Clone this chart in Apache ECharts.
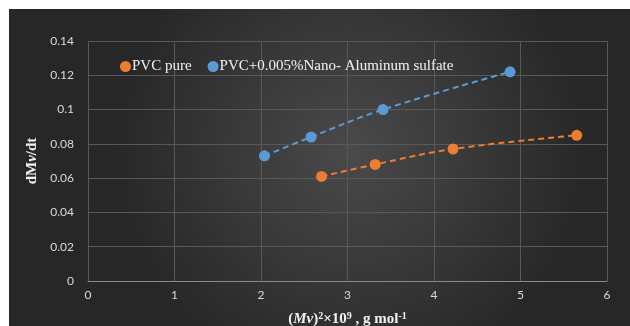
<!DOCTYPE html>
<html>
<head>
<meta charset="utf-8">
<script src="https://cdn.jsdelivr.net/npm/echarts@6/dist/echarts.min.js"></script>
<style>html,body{margin:0;padding:0;background:#fff}#c{width:630px;height:326px}</style>
</head>
<body>
<div id="c"></div>
<script>
var seriesNames = ['PVC pure', 'PVC+0.005%Nano- Aluminum sulfate'];
var pureX = [2.70, 3.32, 4.22, 5.65];
var pureY = [0.061, 0.068, 0.077, 0.085];
var nanoX = [2.04, 2.58, 3.41, 4.88];
var nanoY = [0.073, 0.084, 0.100, 0.122];
var xTicks = [0, 1, 2, 3, 4, 5, 6];
var yTicks = [0, 0.02, 0.04, 0.06, 0.08, 0.1, 0.12, 0.14];

function pairs(xs, ys) { return xs.map(function (x, i) { return [x, ys[i]]; }); }

var chart = echarts.init(document.getElementById('c'));
chart.setOption({
  animation: false,
  graphic: [{
    type: 'rect', z: -10, silent: true,
    shape: { x: 9, y: 9, width: 621, height: 317 },
    style: {
      fill: {
        type: 'radial', x: 0.55, y: 0.45, r: 0.75,
        colorStops: [{ offset: 0, color: '#4a4a4a' }, { offset: 1, color: '#272727' }]
      }
    }
  }],
  grid: { left: 88, right: 23, top: 41, bottom: 45, outerBoundsMode: 'none', containLabel: false },
  legend: {
    left: 115, top: 54, itemGap: 16, itemWidth: 11, itemHeight: 11,
    icon: 'circle',
    textStyle: { fontFamily: 'Liberation Serif', fontSize: 15, color: '#f2f2f2', padding: [0, 0, 0, -4] },
    data: seriesNames
  },
  xAxis: {
    type: 'value', min: 0, max: 6, interval: 1,
    axisLine: { show: true, lineStyle: { color: '#8a8a8a', width: 1 } },
    axisTick: { show: false },
    axisLabel: { color: '#d9d9d9', fontFamily: 'Lato', fontSize: 12, margin: 8,
      formatter: function (v) { return xTicks.indexOf(v) >= 0 ? String(v) : ''; } },
    splitLine: { show: true, lineStyle: { color: '#595959', width: 1 } },
    name: '{n|(}{i|Mv}{n|)}{s|2}{n|×10}{s|9}{n| , g mol}{s|-1}',
    nameLocation: 'middle', nameGap: 30,
    nameTextStyle: {
      rich: {
        i: { fontFamily: 'Liberation Serif', fontSize: 15, fontWeight: 'bold', fontStyle: 'italic', color: '#f2f2f2' },
        n: { fontFamily: 'Liberation Serif', fontSize: 15, fontWeight: 'bold', color: '#f2f2f2' },
        s: { fontFamily: 'Liberation Serif', fontSize: 10, fontWeight: 'bold', color: '#f2f2f2', verticalAlign: 'top', padding: [0, 0, 6, 0] }
      }
    }
  },
  yAxis: {
    type: 'value', min: 0, max: 0.14, interval: 0.02,
    axisLine: { show: false },
    axisTick: { show: false },
    axisLabel: { color: '#d9d9d9', fontFamily: 'Lato', fontSize: 12, margin: 14,
      formatter: function (v) { var r = Math.round(v * 100) / 100; return String(r); } },
    splitLine: { show: true, lineStyle: { color: '#595959', width: 1 } },
    name: '{n|dM}{i|v}{n|/dt}',
    nameLocation: 'middle', nameGap: 46, nameRotate: 90,
    nameTextStyle: {
      rich: {
        i: { fontFamily: 'Liberation Serif', fontSize: 15, fontWeight: 'bold', fontStyle: 'italic', color: '#f2f2f2' },
        n: { fontFamily: 'Liberation Serif', fontSize: 15, fontWeight: 'bold', color: '#f2f2f2' }
      }
    }
  },
  series: [{
    name: seriesNames[0], type: 'line', smooth: 0.4,
    data: pairs(pureX, pureY),
    symbol: 'circle', symbolSize: 11,
    itemStyle: { color: '#ED7D31' },
    lineStyle: { color: '#ED7D31', width: 2, type: [6, 4] }
  }, {
    name: seriesNames[1], type: 'line', smooth: 0.4,
    data: pairs(nanoX, nanoY),
    symbol: 'circle', symbolSize: 11,
    itemStyle: { color: '#5B9BD5' },
    lineStyle: { color: '#5B9BD5', width: 2, type: [6, 4] }
  }]
});
</script>
</body>
</html>
